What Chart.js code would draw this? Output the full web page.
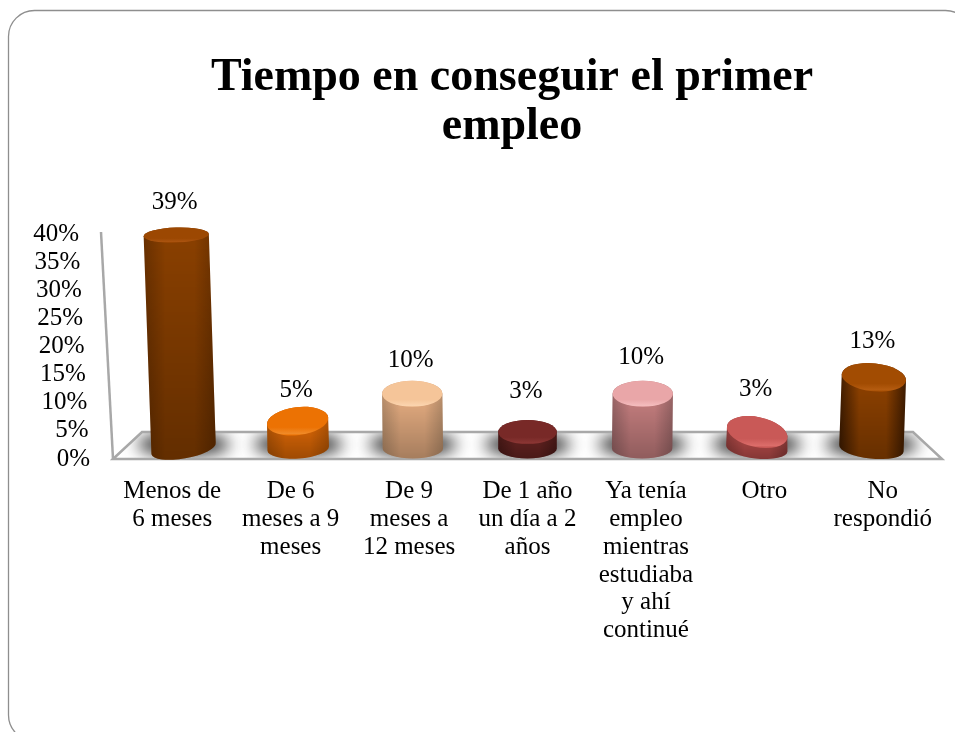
<!DOCTYPE html>
<html><head><meta charset="utf-8">
<style>html,body{margin:0;padding:0;background:#fff}#wrap{width:955px;height:732px}</style>
<script src="https://cdn.jsdelivr.net/npm/chart.js@4"></script>
</head><body><div id="wrap"><canvas id="c" width="955" height="732"></canvas></div>
<script>
const titleLines = ["Tiempo en conseguir el primer", "empleo"];
const categories = [
  ["Menos de", "6 meses"],
  ["De 6", "meses a 9", "meses"],
  ["De 9", "meses a", "12 meses"],
  ["De 1 año", "un día a 2", "años"],
  ["Ya tenía", "empleo", "mientras", "estudiaba", "y ahí", "continué"],
  ["Otro"],
  ["No", "respondió"]
];
const values = [39, 5, 10, 3, 10, 3, 13];
const tickValues = [0, 5, 10, 15, 20, 25, 30, 35, 40];

// appearance of each cylinder
const capColors  = ["#9c4802", "#ec7203", "#f5c599", "#782927", "#e9a6a8", "#c95957", "#a24c02"];
const rimColors  = ["#ab5410", "#f08a28", "#fbd4ae", "#8a3634", "#f4bcbd", "#dc6d6a", "#b55c10"];
const midColors  = ["#8a4000", "#dd6806", "#e7ae82", "#672422", "#c88081", "#b94d4b", "#8f4200"];
const edgeColors = ["#6a3100", "#b05405", "#b98f6c", "#481917", "#9a6667", "#8a3a38", "#3f1c00"];
const widthScale = [1.08, 1.02, 1.0, 0.97, 1.0, 1.02, 1.07];
const capHeights = [7.5, 14, 13, 12, 13, 15, 14];
const capTilts   = [-2, -7, 0, 0, 0, 12, 6];
const baseTilts  = [-10, -4, 0, 0, 0, 6, 6];
const labelLifts = [33, 31, 33, 41, 36, 43, 36];

const FONT = '"Liberation Serif", serif';
const LABEL_SIZE = 25;
const BASE_RY = 10;
const rad = d => d * Math.PI / 180;

const scene = {
  id: 'scene',
  beforeDraw(chart) {
    const {ctx} = chart;
    ctx.save();
    ctx.strokeStyle = '#8e8e8e';
    ctx.lineWidth = 1.3;
    ctx.beginPath();
    ctx.roundRect(8.5, 10.5, 963, 730.5, 26);
    ctx.stroke();
    ctx.restore();
  },
  beforeDatasetsDraw(chart) {
    const {ctx, chartArea: a} = chart;
    const backY = a.bottom - 27, front = [a.left, a.right], back = [a.left + 29, a.right - 29];
    const floor = () => {
      ctx.beginPath();
      ctx.moveTo(front[0], a.bottom);
      ctx.lineTo(back[0], backY);
      ctx.lineTo(back[1], backY);
      ctx.lineTo(front[1], a.bottom);
      ctx.closePath();
    };
    ctx.save();
    // soft shadow on the floor
    ctx.save();
    floor();
    ctx.clip();
    const meta = chart.getDatasetMeta(0);
    const mid = (a.left + a.right) / 2;
    ctx.filter = 'blur(8px)';
    ctx.fillStyle = 'rgba(40,40,40,0.95)';
    meta.data.forEach((el, i) => {
      const cx = mid + (el.x - mid) * 0.968;
      const rx = el.width / 2 * widthScale[i];
      ctx.beginPath();
      ctx.ellipse(cx, el.base - 4, rx + 14, 11, 0, 0, Math.PI * 2);
      ctx.fill();
    });
    ctx.restore();
    ctx.strokeStyle = '#a8a8a8';
    ctx.lineWidth = 2.5;
    floor();
    ctx.stroke();
    ctx.beginPath();
    ctx.moveTo(a.left - 12, a.top - 2);
    ctx.lineTo(a.left, a.bottom);
    ctx.stroke();
    ctx.restore();
  },
  beforeDatasetDraw(chart) {
    const {ctx, chartArea: a} = chart;
    const meta = chart.getDatasetMeta(0);
    const mid = (a.left + a.right) / 2;
    meta.data.forEach((el, i) => {
      const rx = el.width / 2 * widthScale[i];
      const ry = capHeights[i];
      const t = rad(capTilts[i]);
      const bx = mid + (el.x - mid) * 0.968;
      const h = el.base - el.y;
      const tx = bx + (bx - mid) * h * 1e-4;
      ctx.save();
      ctx.filter = 'blur(0.5px)';
      const g = ctx.createLinearGradient(Math.min(bx, tx) - rx, 0, Math.max(bx, tx) + rx, 0);
      g.addColorStop(0, edgeColors[i]);
      g.addColorStop(0.3, midColors[i]);
      g.addColorStop(0.7, midColors[i]);
      g.addColorStop(1, edgeColors[i]);
      ctx.fillStyle = g;
      const body = () => {
        ctx.beginPath();
        ctx.ellipse(tx, el.y, rx, ry, t, Math.PI, 0);
        ctx.ellipse(bx, el.base, rx, BASE_RY, rad(baseTilts[i]), 0, Math.PI);
        ctx.closePath();
      };
      body();
      ctx.fill();
      // darker towards the foot
      const v = ctx.createLinearGradient(0, el.y, 0, el.base + BASE_RY);
      v.addColorStop(0, 'rgba(0,0,0,0)');
      v.addColorStop(1, 'rgba(0,0,0,0.28)');
      ctx.fillStyle = v;
      body();
      ctx.fill();
      // cap
      const cg = ctx.createLinearGradient(0, el.y - ry, 0, el.y + ry);
      cg.addColorStop(0, capColors[i]);
      cg.addColorStop(0.72, capColors[i]);
      cg.addColorStop(0.95, rimColors[i]);
      cg.addColorStop(1, capColors[i]);
      ctx.fillStyle = cg;
      ctx.beginPath();
      ctx.ellipse(tx, el.y, rx, ry, t, 0, Math.PI * 2);
      ctx.fill();
      ctx.restore();
    });
    return false;
  },
  afterDatasetsDraw(chart) {
    const {ctx, chartArea: a} = chart;
    const meta = chart.getDatasetMeta(0);
    const mid = (a.left + a.right) / 2;
    ctx.save();
    ctx.fillStyle = '#000';
    ctx.font = LABEL_SIZE + 'px ' + FONT;
    ctx.textAlign = 'center';
    ctx.textBaseline = 'middle';
    meta.data.forEach((el, i) => {
      const bx = mid + (el.x - mid) * 0.968;
      const tx = bx + (bx - mid) * (el.base - el.y) * 1e-4;
      ctx.fillText(values[i] + '%', tx - 1.5, el.y - labelLifts[i]);
    });
    // value axis labels follow the slanted wall
    const y = chart.scales.y;
    ctx.textAlign = 'right';
    y.ticks.forEach((tk, i) => {
      const py = y.getPixelForTick(i);
      const frac = (a.bottom - py) / (a.bottom - a.top);
      ctx.fillText(tk.label, a.left - 23 - frac * 11, py);
    });
    ctx.restore();
  }
};

new Chart(document.getElementById('c'), {
  type: 'bar',
  data: {
    labels: categories,
    datasets: [{ data: values, yAxisID: 'yBars', barPercentage: 0.51, categoryPercentage: 1, backgroundColor: midColors }]
  },
  options: {
    responsive: false,
    animation: false,
    layout: { padding: { left: 82, right: 13, top: 0, bottom: 0 } },
    plugins: {
      legend: { display: false },
      tooltip: { enabled: false },
      title: {
        display: true,
        text: titleLines,
        color: '#000',
        font: { family: FONT, size: 46, weight: 'bold', lineHeight: 1.08 },
        padding: { top: 53, bottom: 81.6 }
      }
    },
    scales: {
      x: {
        grid: { display: false },
        border: { display: false },
        afterFit(s) { s.height = 273; },
        ticks: {
          color: '#000', autoSkip: false, maxRotation: 0, minRotation: 0, padding: 11,
          font: { family: FONT, size: LABEL_SIZE, lineHeight: 1.11 }
        }
      },
      y: {
        min: 0, max: 40,
        afterFit(s) { s.width = 31; },
        afterBuildTicks(s) { s.ticks = tickValues.map(v => ({ value: v })); },
        grid: { display: false },
        border: { display: false },
        ticks: { display: false, callback: v => v + '%' }
      },
      yBars: { display: false, min: -1.92, max: 39.2 }
    }
  },
  plugins: [scene]
});
</script></body></html>
